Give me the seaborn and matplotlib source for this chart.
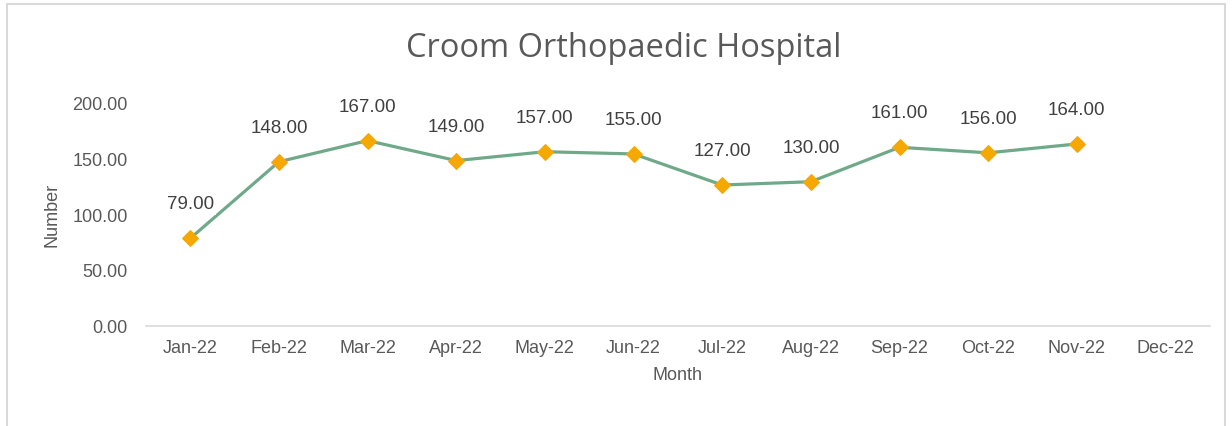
import numpy as np
import pandas as pd
import matplotlib
matplotlib.use("Agg")
import matplotlib.pyplot as plt
import seaborn as sns

# ── data ─────────────────────────────────────────
months = ["Jan-22", "Feb-22", "Mar-22", "Apr-22", "May-22", "Jun-22",
          "Jul-22", "Aug-22", "Sep-22", "Oct-22", "Nov-22", "Dec-22"]
values = [79, 148, 167, 149, 157, 155, 127, 130, 161, 156, 164, np.nan]
y_ticks = [0, 50, 100, 150, 200]

LINE_COLOR = "#6FA98A"
MARKER_COLOR = "#F5A800"
TEXT_COLOR = "#595959"

df = pd.DataFrame({"Month": months, "Number": values})
df["pos"] = range(len(months))

sns.set_style("white")
plt.rcParams["font.family"] = ["Liberation Sans", "DejaVu Sans"]

fig = plt.figure(figsize=(12.32, 4.26), dpi=100)
ax = fig.add_axes([0.1185, 0.2347, 0.8635, 0.5212])

sns.lineplot(data=df.dropna(), x="pos", y="Number", ax=ax, color=LINE_COLOR,
             linewidth=2.3, marker="D", markersize=8,
             markerfacecolor=MARKER_COLOR, markeredgecolor=MARKER_COLOR,
             zorder=2)

# data labels
for p, v in zip(df["pos"], df["Number"]):
    if np.isnan(v):
        continue
    ax.annotate(f"{v:.2f}", (p, v), xytext=(0, 24), textcoords="offset points",
                ha="center", va="center", fontsize=13.5, color="#404040",
                bbox=dict(boxstyle="square,pad=0.1", fc="white", ec="none"),
                zorder=3, annotation_clip=False)

ax.set_xlim(-0.5, len(months) - 0.5)
ax.set_ylim(0, 200)
ax.set_xticks(df["pos"])
ax.set_xticklabels(months)
ax.set_yticks(y_ticks)
ax.set_yticklabels([f"{t:.2f}" for t in y_ticks])
ax.tick_params(axis="both", length=0, labelsize=13, labelcolor=TEXT_COLOR)
ax.tick_params(axis="x", pad=10)
ax.tick_params(axis="y", pad=13)

for side in ["top", "right", "left"]:
    ax.spines[side].set_visible(False)
ax.spines["bottom"].set_color("#D9D9D9")
ax.spines["bottom"].set_linewidth(1.2)

ax.set_xlabel("Month", fontsize=13, color=TEXT_COLOR, labelpad=7)
ax.set_ylabel("Number", fontsize=13, color=TEXT_COLOR, labelpad=9)

fig.text(0.506, 0.885, "Croom Orthopaedic Hospital", ha="center", va="center",
         fontsize=23.5, color=TEXT_COLOR, family=["Open Sans", "DejaVu Sans"])

# chart border
fig.patches.append(plt.Rectangle((7 / 1232, -0.05), 1218 / 1232, 1.04,
                                 transform=fig.transFigure, fill=False,
                                 edgecolor="#D9D9D9", linewidth=1.5))

plt.savefig("out.png", dpi=100)
